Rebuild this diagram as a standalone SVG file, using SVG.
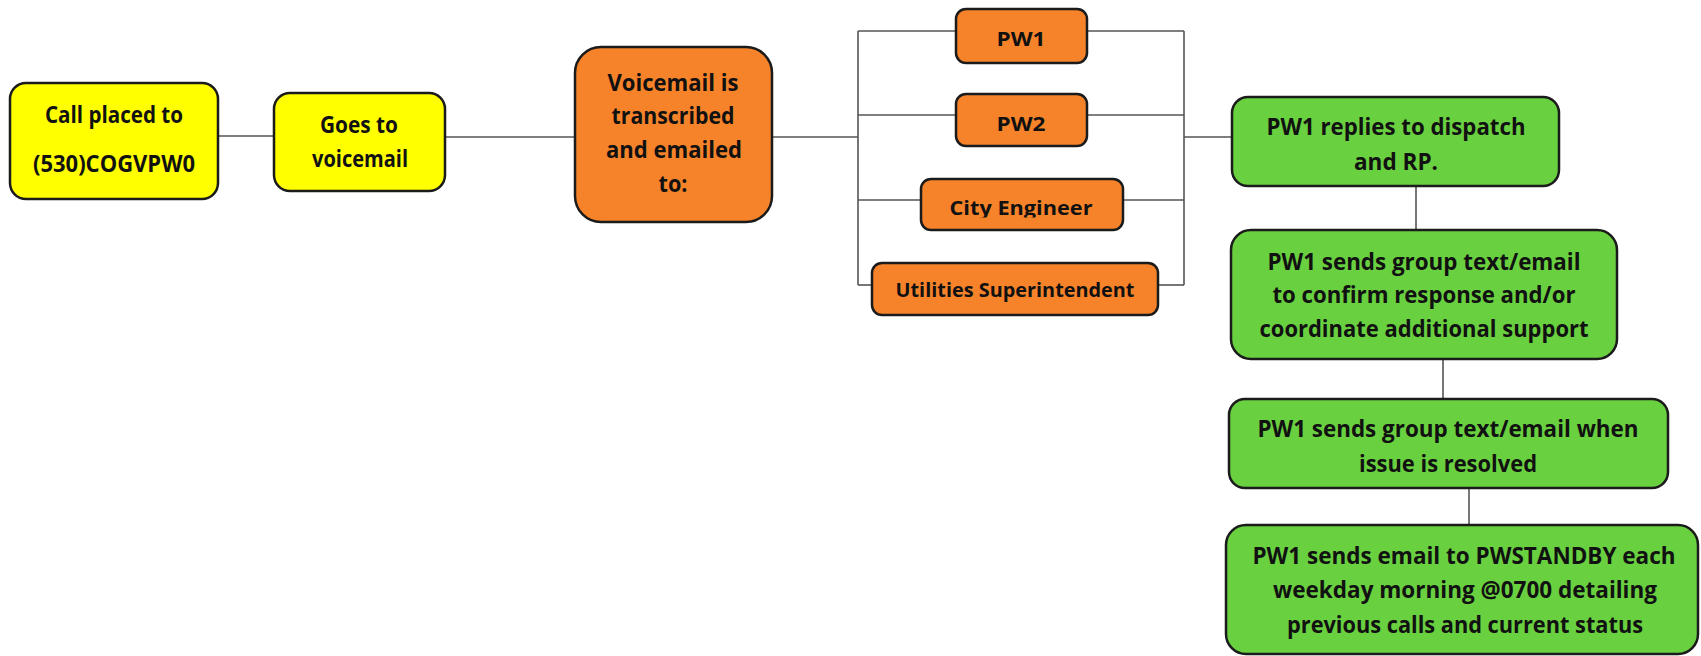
<svg xmlns="http://www.w3.org/2000/svg" width="1701" height="656" viewBox="0 0 1701 656">
<style>
.box{stroke:#1b1b1b;stroke-width:2.5}
.y{fill:#FFFF00}
.o{fill:#F6832A}
.g{fill:#69D040}
.t{font-family:"Open Sans",Lato,"Liberation Sans",sans-serif;font-weight:bold;fill:#111;text-anchor:middle}
.m{font-size:24px}
.s{font-size:20px}
.c line{stroke:#555;stroke-width:1.6}
</style>
<defs>
<clipPath id="ceClip"><rect x="921" y="179" width="202" height="38.5"/></clipPath>
</defs>
<rect width="1701" height="656" fill="#fff"/>
<g class="c" id="connectors">
<line x1="218" y1="136" x2="274" y2="136"/>
<line x1="445" y1="137" x2="575" y2="137"/>
<line x1="772" y1="137" x2="858" y2="137"/>
<line x1="858" y1="31" x2="858" y2="285"/>
<line x1="858" y1="31" x2="956" y2="31"/>
<line x1="858" y1="115" x2="956" y2="115"/>
<line x1="858" y1="200" x2="921" y2="200"/>
<line x1="858" y1="285" x2="872" y2="285"/>
<line x1="1087" y1="31" x2="1184" y2="31"/>
<line x1="1087" y1="115" x2="1184" y2="115"/>
<line x1="1123" y1="200" x2="1184" y2="200"/>
<line x1="1158" y1="285" x2="1184" y2="285"/>
<line x1="1184" y1="31" x2="1184" y2="285"/>
<line x1="1184" y1="137" x2="1232" y2="137"/>
<line x1="1416" y1="186" x2="1416" y2="230"/>
<line x1="1443" y1="359" x2="1443" y2="399"/>
<line x1="1469" y1="488" x2="1469" y2="525"/>
</g>
<g id="call">
<rect class="box y" x="10" y="83" width="208" height="116" rx="16"/>
<text class="t m" x="114" y="123" textLength="138" lengthAdjust="spacingAndGlyphs">Call placed to</text>
<text class="t m" x="114" y="172" textLength="162" lengthAdjust="spacingAndGlyphs">(530)COGVPW0</text>
</g>
<g id="voicemail">
<rect class="box y" x="274" y="93" width="171" height="98" rx="16"/>
<text class="t m" x="359" y="133" textLength="78" lengthAdjust="spacingAndGlyphs">Goes to</text>
<text class="t m" x="360" y="167" textLength="96" lengthAdjust="spacingAndGlyphs">voicemail</text>
</g>
<g id="transcribed">
<rect class="box o" x="575" y="47" width="197" height="175" rx="26"/>
<text class="t m" x="673" y="91" textLength="131" lengthAdjust="spacingAndGlyphs">Voicemail is</text>
<text class="t m" x="673" y="124" textLength="123" lengthAdjust="spacingAndGlyphs">transcribed</text>
<text class="t m" x="674" y="158" textLength="136" lengthAdjust="spacingAndGlyphs">and emailed</text>
<text class="t m" x="673" y="192" textLength="29" lengthAdjust="spacingAndGlyphs">to:</text>
</g>
<g id="pw1">
<rect class="box o" x="956" y="9" width="131" height="54" rx="10"/>
<text class="t s" x="1021" y="46" textLength="49" lengthAdjust="spacingAndGlyphs">PW1</text>
</g>
<g id="pw2">
<rect class="box o" x="956" y="94" width="131" height="52" rx="10"/>
<text class="t s" x="1021" y="131" textLength="49" lengthAdjust="spacingAndGlyphs">PW2</text>
</g>
<g id="cityEngineer">
<rect class="box o" x="921" y="179" width="202" height="51" rx="10"/>
<text class="t s" x="1021" y="215" textLength="143" lengthAdjust="spacingAndGlyphs" clip-path="url(#ceClip)">City Engineer</text>
</g>
<g id="utilities">
<rect class="box o" x="872" y="263" width="286" height="52" rx="10"/>
<text class="t s" x="1015" y="297" textLength="239" lengthAdjust="spacingAndGlyphs">Utilities Superintendent</text>
</g>
<g id="replies">
<rect class="box g" x="1232" y="97" width="327" height="89" rx="16"/>
<text class="t m" x="1396" y="135" textLength="259" lengthAdjust="spacingAndGlyphs">PW1 replies to dispatch</text>
<text class="t m" x="1396" y="170" textLength="84" lengthAdjust="spacingAndGlyphs">and RP.</text>
</g>
<g id="confirm">
<rect class="box g" x="1231" y="230" width="386" height="129" rx="20"/>
<text class="t m" x="1424" y="270" textLength="313" lengthAdjust="spacingAndGlyphs">PW1 sends group text/email</text>
<text class="t m" x="1424" y="303" textLength="303" lengthAdjust="spacingAndGlyphs">to confirm response and/or</text>
<text class="t m" x="1424" y="337" textLength="329" lengthAdjust="spacingAndGlyphs">coordinate additional support</text>
</g>
<g id="resolved">
<rect class="box g" x="1229" y="399" width="439" height="89" rx="16"/>
<text class="t m" x="1448" y="437" textLength="381" lengthAdjust="spacingAndGlyphs">PW1 sends group text/email when</text>
<text class="t m" x="1448" y="472" textLength="178" lengthAdjust="spacingAndGlyphs">issue is resolved</text>
</g>
<g id="standby">
<rect class="box g" x="1226" y="525" width="472" height="129" rx="20"/>
<text class="t m" x="1464" y="564" textLength="423" lengthAdjust="spacingAndGlyphs">PW1 sends email to PWSTANDBY each</text>
<text class="t m" x="1465" y="598" textLength="384" lengthAdjust="spacingAndGlyphs">weekday morning @0700 detailing</text>
<text class="t m" x="1465" y="633" textLength="356" lengthAdjust="spacingAndGlyphs">previous calls and current status</text>
</g>
</svg>
